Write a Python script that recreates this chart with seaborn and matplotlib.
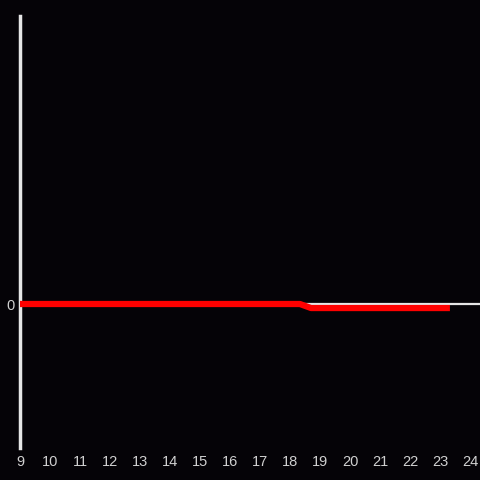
import pandas as pd
import matplotlib
matplotlib.use("Agg")
import matplotlib.pyplot as plt
import seaborn as sns

# series
hours = [9, 10, 11, 12, 13, 14, 15, 16, 17, 18, 18.33, 18.7, 19, 20, 21, 22, 23, 23.33]
values = [0, 0, 0, 0, 0, 0, 0, 0, 0, 0, 0, -0.028, -0.028, -0.028, -0.028, -0.028, -0.028, -0.028]
x_ticks = list(range(9, 25))

df = pd.DataFrame({"hour": hours, "value": values})

sns.set_style("dark")
plt.rcParams['font.family'] = ['Liberation Sans', 'DejaVu Sans']

bg = "#050307"
fig = plt.figure(figsize=(4.8, 4.8), dpi=100, facecolor=bg)
ax = fig.add_axes([20 / 480, 32 / 480, 460 / 480, 432 / 480])
ax.set_facecolor(bg)

# zero baseline
ax.axhline(0, color="#e6e6e6", lw=1.6, zorder=1)

sns.lineplot(data=df, x="hour", y="value", color="#ff0000", lw=4.5, ax=ax, zorder=3,
             solid_capstyle="butt")

ax.set_xlim(9, 24.333)
ax.set_ylim(-1, 2)
ax.set_xticks(x_ticks)
ax.set_yticks([0])
ax.set_xlabel("")
ax.set_ylabel("")
ax.grid(False)

for side in ["top", "right", "bottom"]:
    ax.spines[side].set_visible(False)
ax.spines["left"].set_color("#e6e6e6")
ax.spines["left"].set_linewidth(2.5)

ax.tick_params(axis="both", length=0, colors="#d0d0d0", labelsize=10.5)
ax.tick_params(axis="x", pad=5)
ax.tick_params(axis="y", pad=4)

fig.savefig("out.png", dpi=100, facecolor=bg)
